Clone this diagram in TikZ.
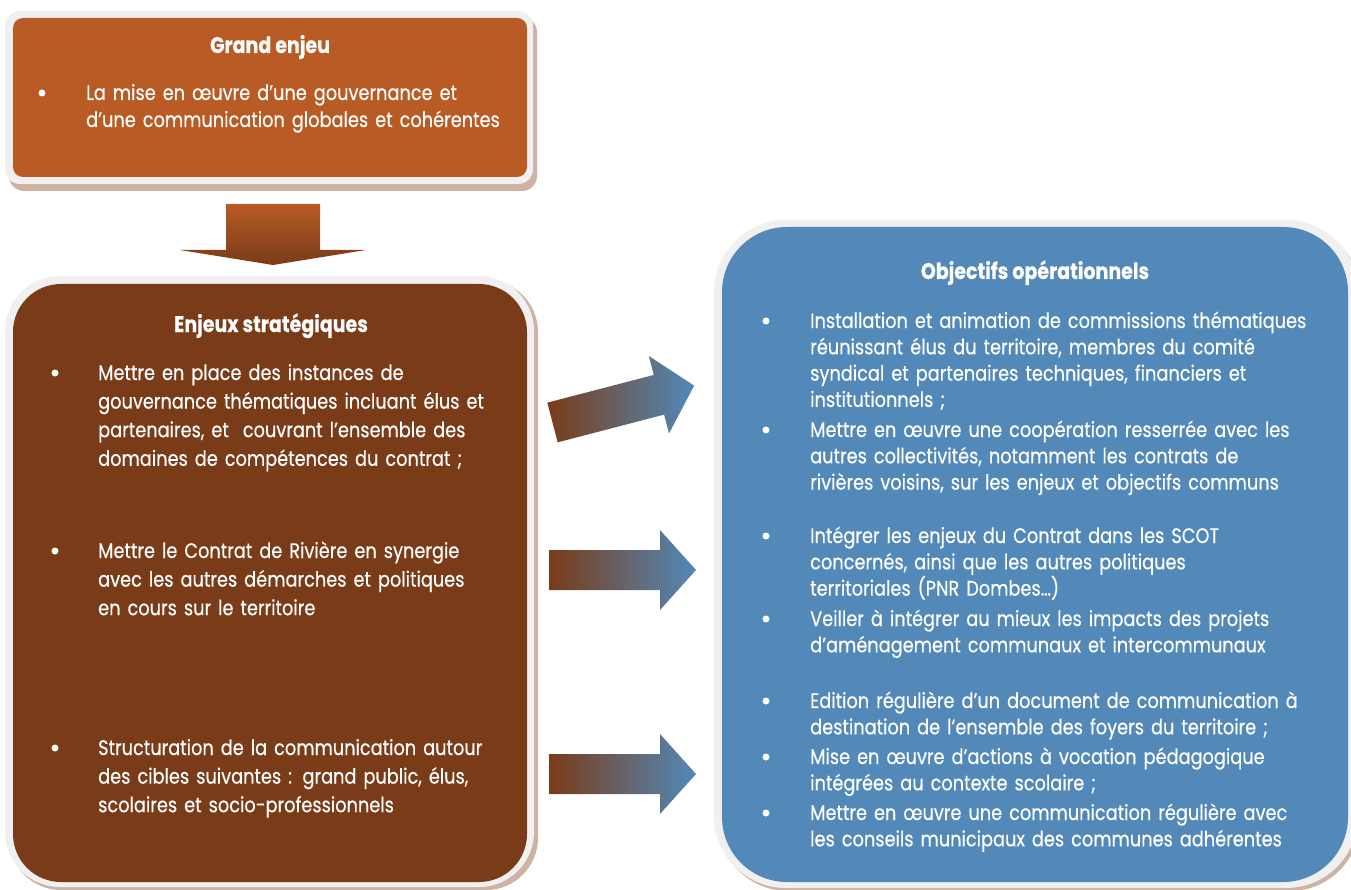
\documentclass[tikz,border=0pt]{standalone}
\usepackage{fontspec}
\setmainfont[FakeStretch=0.845, FakeBold=0.35]{Poppins}
\definecolor{rust}{HTML}{B95B25}
\definecolor{bark}{HTML}{7A3B18}
\definecolor{steel}{HTML}{5289B8}
\definecolor{frame}{HTML}{F0F0F0}
\definecolor{shadowbrown}{HTML}{CDB3A4}
\tikzset{
  framebox/.style={fill=frame, draw=none},
  shadowbox/.style={fill=shadowbrown, draw=none},
  title/.style={text=white, font=\fontsize{22.5}{26}\selectfont\bfseries, inner sep=0pt, anchor=base},
  itemtext/.style={text=white, inner sep=0pt, anchor=base west, text width=580pt, align=left},
  topitem/.style={itemtext, font=\fontsize{21}{27}\selectfont},
  leftitem/.style={itemtext, font=\fontsize{21}{28.6}\selectfont},
  rightitem/.style={itemtext, font=\fontsize{21}{26.3}\selectfont},
  dot/.style={circle, fill=white, draw=none, inner sep=0pt, minimum size=7pt},
}
\begin{document}
\begin{tikzpicture}[x=1pt, y=-1pt]
\path[use as bounding box] (0,0) rectangle (1351,890);

% ---- top box: Grand enjeu
\fill[shadowbox, rounded corners=15pt] (9,17) rectangle (537,191);
\fill[framebox, rounded corners=15pt] (5,11) rectangle (533,184);
\fill[rust, rounded corners=10pt] (13,18) rectangle (527,177);
\node[title] (t1) at (270,53) {Grand enjeu};
\node[dot] (b0) at (42,93) {};
\node[topitem] (i0) at (86,100) {La mise en œuvre d’une gouvernance et\\d’une communication globales et cohérentes};

% ---- downward block arrow
\shade[top color=rust, bottom color=bark]
  (226,204) -- (320,204) -- (320,250) -- (366,250) -- (273,265) -- (180,250) -- (226,250) -- cycle;

% ---- left box: Enjeux stratégiques
\fill[shadowbox, rounded corners=52pt] (9,280) rectangle (538,890);
\fill[framebox, rounded corners=55pt] (5,276) rectangle (534,887);
\fill[bark, rounded corners=48pt] (13,284) rectangle (527,882);
\node[title] (t2) at (271,332) {Enjeux stratégiques};
\node[dot] (b1) at (55,373) {};
\node[leftitem] (l1) at (98,380) {Mettre en place des instances de\\gouvernance thématiques incluant élus et\\partenaires, et \ couvrant l’ensemble des\\domaines de compétences du contrat ;};
\node[dot] (b2) at (55,551) {};
\node[leftitem] (l2) at (98,558) {Mettre le Contrat de Rivière en synergie\\avec les autres démarches et politiques\\en cours sur le territoire};
\node[dot] (b3) at (55,748) {};
\node[leftitem] (l3) at (98,755) {Structuration de la communication autour\\des cibles suivantes : grand public, élus,\\scolaires et socio-professionnels};

% ---- right box: Objectifs opérationnels
\fill[shadowbox, rounded corners=70pt] (718,224) rectangle (1360,891);
\fill[framebox, rounded corners=72pt] (714,220) rectangle (1358,888);
\fill[steel, rounded corners=65pt] (722,227) rectangle (1348,882);
\node[title] (t3) at (1035,279) {Objectifs opérationnels};
\node[dot] (r1b) at (766,321) {};
\node[rightitem] (r1) at (810,328) {Installation et animation de commissions thématiques\\réunissant élus du territoire, membres du comité\\syndical et partenaires techniques, financiers et\\institutionnels ;};
\node[dot] (r2b) at (766,430) {};
\node[rightitem] (r2) at (810,437) {Mettre en œuvre une coopération resserrée avec les\\autres collectivités, notamment les contrats de\\rivières voisins, sur les enjeux et objectifs communs};
\node[dot] (r3b) at (766,536) {};
\node[rightitem] (r3) at (810,543) {Intégrer les enjeux du Contrat dans les SCOT\\concernés, ainsi que les autres politiques\\territoriales (PNR Dombes…)};
\node[dot] (r4b) at (766,619) {};
\node[rightitem] (r4) at (810,626) {Veiller à intégrer au mieux les impacts des projets\\d’aménagement communaux et intercommunaux};
\node[dot] (r5b) at (766,701) {};
\node[rightitem] (r5) at (810,708) {Edition régulière d’un document de communication à\\destination de l’ensemble des foyers du territoire ;};
\node[dot] (r6b) at (766,757) {};
\node[rightitem] (r6) at (810,764) {Mise en œuvre d’actions à vocation pédagogique\\intégrées au contexte scolaire ;};
\node[dot] (r7b) at (766,813) {};
\node[rightitem] (r7) at (810,820) {Mettre en œuvre une communication régulière avec\\les conseils municipaux des communes adhérentes};

% ---- block arrows from strategic stakes to objectives
\begin{scope}[shift={(552.5,422.5)}, rotate=14.6]
  \shade[left color=bark, right color=steel]
    (0,-20.5) -- (110,-20.5) -- (110,-40) -- (146.4,0) -- (110,40) -- (110,20.5) -- (0,20.5) -- cycle;
\end{scope}
\shade[left color=bark, right color=steel]
  (549,550) -- (660,550) -- (660,530) -- (696,570) -- (660,610) -- (660,590) -- (549,590) -- cycle;
\shade[left color=bark, right color=steel]
  (549,754) -- (660,754) -- (660,734) -- (696,774) -- (660,814) -- (660,794) -- (549,794) -- cycle;
\end{tikzpicture}
\end{document}
